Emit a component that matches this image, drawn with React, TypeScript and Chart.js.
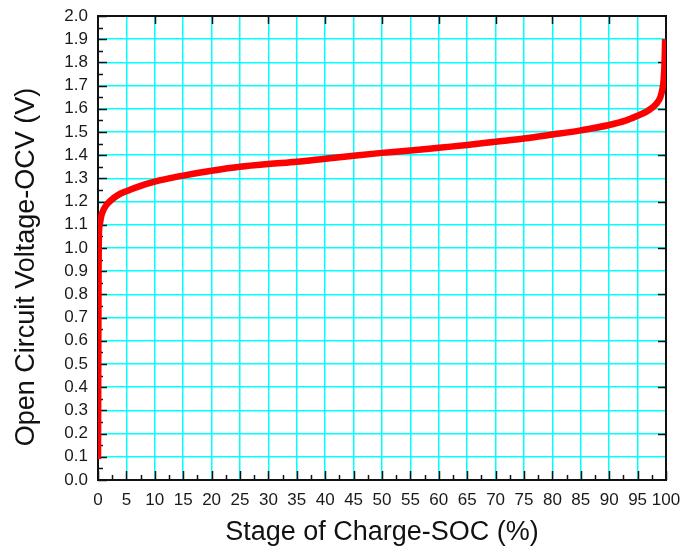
import React, { useEffect, useRef } from "react";
import { Chart, registerables } from "chart.js";

Chart.register(...registerables);

const socValues = [0, 0.05, 0.1, 0.15, 0.3, 0.6, 1, 1.5, 2.3, 3.5, 5, 7.5, 10, 12.5, 15, 17.5, 20, 25, 30, 35, 40, 45, 50, 55, 60, 65, 70, 75, 80, 85, 90, 93, 95, 96.5, 97.5, 98.5, 99, 99.4, 99.6, 99.75, 99.85];
const ocvValues = [0.09, 0.5, 0.9, 1.05, 1.1, 1.14, 1.166, 1.186, 1.206, 1.228, 1.245, 1.268, 1.286, 1.3, 1.312, 1.323, 1.333, 1.35, 1.362, 1.372, 1.385, 1.398, 1.41, 1.42, 1.432, 1.444, 1.458, 1.472, 1.489, 1.507, 1.53, 1.55, 1.57, 1.587, 1.603, 1.628, 1.65, 1.69, 1.73, 1.8, 1.9];

const xTitle = "Stage of Charge-SOC (%)";
const yTitle = "Open Circuit Voltage-OCV (V)";
const FONT = "'Liberation Sans', Arial, sans-serif";

const framePlugin = {
  id: "frameTicks",
  beforeDatasetsDraw(chart: any) {
    const { ctx, chartArea: a, scales } = chart;
    const xs = scales.x;
    const ys = scales.y;
    ctx.save();
    ctx.strokeStyle = "#111";
    ctx.lineWidth = 1.5;
    for (let v = 0; v <= 100; v += 2.5) {
      const px = Math.round(xs.getPixelForValue(v)) + 0.5;
      const len = v % 5 === 0 ? 9 : 5;
      ctx.beginPath();
      ctx.moveTo(px, a.bottom);
      ctx.lineTo(px, a.bottom - len);
      ctx.stroke();
    }
    for (let v = 10; v < 100; v += 10) {
      const px = Math.round(xs.getPixelForValue(v)) + 0.5;
      ctx.beginPath();
      ctx.moveTo(px, a.top);
      ctx.lineTo(px, a.top + 8);
      ctx.stroke();
    }
    for (let i = 0; i <= 40; i++) {
      const v = i * 0.05;
      const py = Math.round(ys.getPixelForValue(v)) + 0.5;
      const len = i % 2 === 0 ? 9 : 5;
      ctx.beginPath();
      ctx.moveTo(a.left, py);
      ctx.lineTo(a.left + len, py);
      ctx.stroke();
    }
    for (let i = 1; i < 10; i++) {
      const v = i * 0.2;
      const py = Math.round(ys.getPixelForValue(v)) + 0.5;
      ctx.beginPath();
      ctx.moveTo(a.right, py);
      ctx.lineTo(a.right - 8, py);
      ctx.stroke();
    }
    ctx.lineWidth = 2;
    ctx.strokeRect(a.left, a.top, a.right - a.left, a.bottom - a.top);
    ctx.restore();
  },
  afterDraw(chart: any) {
    const { ctx, chartArea: a } = chart;
    ctx.save();
    ctx.fillStyle = "#111";
    ctx.font = `27px ${FONT}`;
    ctx.textAlign = "center";
    ctx.textBaseline = "middle";
    ctx.fillText(xTitle, (a.left + a.right) / 2, 533);
    ctx.translate(27, 267);
    ctx.rotate(-Math.PI / 2);
    ctx.fillText(yTitle, 0, 0);
    ctx.restore();
  },
};

export default function App() {
  const ref = useRef<HTMLCanvasElement>(null);
  useEffect(() => {
    if (!ref.current) return;
    const data = socValues.map((x, i) => ({ x, y: ocvValues[i] }));
    const chart = new Chart(ref.current, {
      type: "line",
      data: {
        datasets: [
          {
            data,
            borderColor: "#ff0000",
            borderWidth: 6.5,
            pointRadius: 0,
            cubicInterpolationMode: "monotone",
            fill: false,
          },
        ],
      },
      options: {
        animation: false,
        responsive: false,
        maintainAspectRatio: false,
        layout: { padding: { left: 0, right: 16, top: 16, bottom: 0 } },
        plugins: { legend: { display: false }, tooltip: { enabled: false } },
        scales: {
          x: {
            type: "linear",
            min: 0,
            max: 100,
            afterFit: (s: any) => {
              s.height = 70;
              s.paddingLeft = 0;
              s.paddingRight = 0;
            },
            ticks: {
              stepSize: 5,
              padding: 10,
              color: "#1a1a1a",
              font: { family: FONT, size: 17 },
              maxRotation: 0,
              autoSkip: false,
            },
            grid: { color: "#00ffff", lineWidth: 1.5, drawTicks: false },
            border: { display: false },
          },
          y: {
            type: "linear",
            min: 0,
            max: 2,
            afterFit: (s: any) => {
              s.width = 98;
              s.paddingTop = 0;
              s.paddingBottom = 0;
            },
            ticks: {
              stepSize: 0.1,
              padding: 10,
              color: "#1a1a1a",
              font: { family: FONT, size: 17 },
              autoSkip: false,
              callback: (v: any) => Number(v).toFixed(1),
            },
            grid: { color: "#00ffff", lineWidth: 1.5, drawTicks: false },
            border: { display: false },
          },
        },
      },
      plugins: [framePlugin],
    });
    return () => chart.destroy();
  }, []);
  return (
    <div style={{ position: "fixed", left: 0, top: 0, width: 682, height: 550, background: "#fff" }}>
      <canvas ref={ref} width={682} height={550} style={{ width: 682, height: 550 }} />
    </div>
  );
}
